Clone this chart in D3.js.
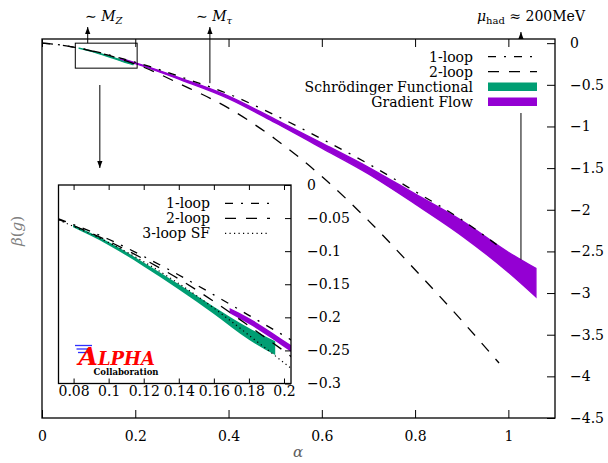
<!DOCTYPE html>
<html>
<head>
<meta charset="utf-8">
<script src="https://cdn.jsdelivr.net/npm/d3@7"></script>
<style>
  body { margin: 0; background: #fff; }
  text { font-family: "DejaVu Serif", serif; }
</style>
</head>
<body>
<div class="canvas"></div>
<script>
// values
const alphaTicks = [0, 0.2, 0.4, 0.6, 0.8, 1];
const betaTicks = [0, -0.5, -1, -1.5, -2, -2.5, -3, -3.5, -4, -4.5];
const insetAlphaTicks = [0.08, 0.1, 0.12, 0.14, 0.16, 0.18, 0.2];
const insetBetaTicks = [0, -0.05, -0.1, -0.15, -0.2, -0.25, -0.3];

// [alpha, beta]
const oneLoop = [[0, 0], [0.04, -0.021], [0.0714, -0.051], [0.10, -0.082], [0.12, -0.108], [0.14, -0.136],
  [0.16, -0.166], [0.18, -0.197], [0.204, -0.234], [0.3, -0.41], [0.4, -0.61], [0.5, -0.865],
  [0.6, -1.15], [0.7, -1.45], [0.8, -1.78], [0.9, -2.12], [0.98, -2.44]];
const twoLoop = [[0, 0], [0.04, -0.022], [0.0714, -0.052], [0.10, -0.085], [0.12, -0.112], [0.14, -0.142],
  [0.16, -0.176], [0.18, -0.213], [0.204, -0.259], [0.3, -0.50], [0.4, -0.78], [0.5, -1.15],
  [0.6, -1.60], [0.7, -2.13], [0.8, -2.72], [0.9, -3.33], [0.98, -3.84]];
const threeLoopSF = [[0.0714, -0.053], [0.10, -0.087], [0.12, -0.116], [0.14, -0.149],
  [0.16, -0.186], [0.18, -0.227], [0.204, -0.277]];

// [alpha, lower, upper]
const sfBand = [[0.0797, -0.064, -0.060], [0.10, -0.091, -0.086], [0.12, -0.123, -0.117],
  [0.14, -0.158, -0.150], [0.16, -0.195, -0.184], [0.18, -0.234, -0.216], [0.195, -0.257, -0.236]];
const gfBand = [[0.169, -0.194, -0.186], [0.18, -0.210, -0.201], [0.204, -0.252, -0.242],
  [0.3, -0.445, -0.425], [0.4, -0.665, -0.635], [0.5, -0.955, -0.915], [0.6, -1.26, -1.20],
  [0.7, -1.57, -1.49], [0.8, -1.93, -1.81], [0.9, -2.31, -2.13], [1.0, -2.75, -2.51],
  [1.059, -3.045, -2.705]];

const legendMain = ['1-loop', '2-loop', 'Schrödinger Functional', 'Gradient Flow'];
const legendInset = ['1-loop', '2-loop', '3-loop SF'];

// scale markers: alpha of the arrow, beta where it starts
const muZ = { alpha: 0.098, beta: 0 };
const muTau = { alpha: 0.36, beta: -0.48 };
const muHad = { alpha: 1.027, beta: -2.6 };

const green = '#009e73';
const purple = '#9400d3';

const margin = { top: 39, right: 53, bottom: 45, left: 42 };
const graphWidth = 608 - margin.left - margin.right;
const graphHeight = 463 - margin.top - margin.bottom;

const svg = d3.select('.canvas')
  .append('svg')
  .attr('width', 608)
  .attr('height', 463);

const defs = svg.append('defs');
defs.append('clipPath').attr('id', 'clipMain')
  .append('rect').attr('width', graphWidth).attr('height', graphHeight);
defs.append('marker')
  .attr('id', 'arrow')
  .attr('viewBox', '-7 -3 8 6')
  .attr('refX', 0).attr('refY', 0)
  .attr('markerWidth', 8).attr('markerHeight', 6)
  .attr('markerUnits', 'userSpaceOnUse')
  .attr('orient', 'auto')
  .append('path').attr('d', 'M0,0L-7,-2.6L-7,2.6Z').attr('fill', '#000');

const x = d3.scaleLinear().domain([0, 1.1]).range([0, graphWidth]);
const y = d3.scaleLinear().domain([-4.5, 0.05]).range([graphHeight, 0]);

const graph = svg.append('g')
  .attr('transform', `translate(${margin.left}, ${margin.top})`);

const styleAxis = g => {
  g.select('.domain').remove();
  g.attr('font-family', '"DejaVu Serif", serif').attr('font-size', 14);
  g.selectAll('line').attr('stroke-width', 1);
};

const arrow = (x1, y1, x2, y2) => svg.append('line')
  .attr('x1', x1).attr('y1', y1).attr('x2', x2).attr('y2', y2)
  .attr('stroke', '#000').attr('stroke-width', 1)
  .attr('marker-end', 'url(#arrow)');

const plot = graph.append('g').attr('clip-path', 'url(#clipMain)');

const band = (sx, sy) => d3.area()
  .x(d => sx(d[0])).y0(d => sy(d[1])).y1(d => sy(d[2]))
  .curve(d3.curveMonotoneX);
const curve = (sx, sy) => d3.line()
  .x(d => sx(d[0])).y(d => sy(d[1]))
  .curve(d3.curveMonotoneX);

plot.append('path').attr('d', band(x, y)(sfBand))
  .attr('fill', green).attr('stroke', green).attr('stroke-width', 1.2);
plot.append('path').attr('d', band(x, y)(gfBand))
  .attr('fill', purple).attr('stroke', purple).attr('stroke-width', 1.4);
plot.append('path').attr('d', curve(x, y)(oneLoop))
  .attr('fill', 'none').attr('stroke', '#000').attr('stroke-width', 1.3)
  .attr('stroke-dasharray', '8,8,2,8');
plot.append('path').attr('d', curve(x, y)(twoLoop))
  .attr('fill', 'none').attr('stroke', '#000').attr('stroke-width', 1.3)
  .attr('stroke-dasharray', '11,10');

// small box marking the zoomed region
graph.append('rect')
  .attr('x', x(0.0714)).attr('y', y(0))
  .attr('width', x(0.204) - x(0.0714)).attr('height', y(-0.3) - y(0))
  .attr('fill', 'none').attr('stroke', '#000').attr('stroke-width', 1);

// scale arrows
arrow(margin.left + x(muZ.alpha), margin.top + y(muZ.beta), margin.left + x(muZ.alpha), 27);
arrow(margin.left + x(muTau.alpha), margin.top + y(muTau.beta), margin.left + x(muTau.alpha), 27);
arrow(margin.left + x(muHad.alpha), margin.top + y(muHad.beta), margin.left + x(muHad.alpha), 32);
arrow(margin.left + x(0.124), 85, margin.left + x(0.124), 168);

// key (opaque, sits over the arrow)
const key = svg.append('g')
  .attr('transform', `translate(${margin.left}, ${margin.top})`);
key.append('rect')
  .attr('x', 243).attr('y', 0).attr('width', 261).attr('height', 74)
  .attr('fill', '#fff');
legendMain.forEach((name, i) => {
  const ky = 17.7 + i * 15;
  key.append('text').text(name)
    .attr('x', 431).attr('y', ky).attr('dy', '0.35em')
    .attr('text-anchor', 'end').attr('font-size', 14);
  if (i < 2) {
    key.append('line')
      .attr('x1', 446).attr('x2', 495).attr('y1', ky).attr('y2', ky)
      .attr('stroke', '#000').attr('stroke-width', 1.3)
      .attr('stroke-dasharray', i === 0 ? '8,8,2,8' : '11,10');
  } else {
    key.append('rect')
      .attr('x', 446).attr('y', ky - 4.2).attr('width', 49).attr('height', 8.5)
      .attr('fill', i === 2 ? green : purple);
  }
});

// axes and border go on top of the key
const frame = svg.append('g')
  .attr('transform', `translate(${margin.left}, ${margin.top})`);
frame.append('g')
  .attr('transform', `translate(0, ${graphHeight})`)
  .call(d3.axisBottom(x).tickValues(alphaTicks).tickSize(-8).tickSizeOuter(0)
    .tickPadding(13).tickFormat(d3.format('~g')))
  .call(styleAxis);
frame.append('g')
  .call(d3.axisTop(x).tickValues(alphaTicks).tickSize(-8).tickSizeOuter(0).tickFormat(''))
  .call(styleAxis);
frame.append('g')
  .attr('transform', `translate(${graphWidth}, 0)`)
  .call(d3.axisRight(y).tickValues(betaTicks).tickSize(-8).tickSizeOuter(0)
    .tickPadding(15).tickFormat(d3.format('~g')))
  .call(styleAxis);
frame.append('rect')
  .attr('width', graphWidth).attr('height', graphHeight)
  .attr('fill', 'none').attr('stroke', '#000').attr('stroke-width', 1.3);

// inset
const inset = { left: 58.5, top: 185, width: 232.5, height: 198.5 };
const xi = d3.scaleLinear().domain([0.0714, 0.204]).range([0, inset.width]);
const yi = d3.scaleLinear().domain([-0.3, 0]).range([inset.height, 0]);

defs.append('clipPath').attr('id', 'clipInset')
  .append('rect').attr('width', inset.width).attr('height', inset.height);

const graph2 = svg.append('g')
  .attr('transform', `translate(${inset.left}, ${inset.top})`);
graph2.append('rect')
  .attr('width', inset.width).attr('height', inset.height).attr('fill', '#fff');

const plot2 = graph2.append('g').attr('clip-path', 'url(#clipInset)');
plot2.append('path').attr('d', band(xi, yi)(sfBand)).attr('fill', green);
plot2.append('path').attr('d', band(xi, yi)(gfBand)).attr('fill', purple);
plot2.append('path').attr('d', curve(xi, yi)(oneLoop))
  .attr('fill', 'none').attr('stroke', '#000').attr('stroke-width', 1.3)
  .attr('stroke-dasharray', '8,8,2,8');
plot2.append('path').attr('d', curve(xi, yi)(twoLoop))
  .attr('fill', 'none').attr('stroke', '#000').attr('stroke-width', 1.3)
  .attr('stroke-dasharray', '11,10');
plot2.append('path').attr('d', curve(xi, yi)(threeLoopSF))
  .attr('fill', 'none').attr('stroke', '#000').attr('stroke-width', 1.2)
  .attr('stroke-dasharray', '1.2,3.3');

graph2.append('g')
  .attr('transform', `translate(0, ${inset.height})`)
  .call(d3.axisBottom(xi).tickValues(insetAlphaTicks).tickSize(-5).tickSizeOuter(0)
    .tickPadding(3).tickFormat(d3.format('~g')))
  .call(styleAxis);
graph2.append('g')
  .call(d3.axisTop(xi).tickValues(insetAlphaTicks).tickSize(-5).tickSizeOuter(0).tickFormat(''))
  .call(styleAxis);
graph2.append('g')
  .attr('transform', `translate(${inset.width}, 0)`)
  .call(d3.axisRight(yi).tickValues(insetBetaTicks).tickSize(-6).tickSizeOuter(0)
    .tickPadding(16).tickFormat(d3.format('~g')))
  .call(styleAxis);

graph2.append('rect')
  .attr('width', inset.width).attr('height', inset.height)
  .attr('fill', 'none').attr('stroke', '#000').attr('stroke-width', 1.3);

legendInset.forEach((name, i) => {
  const ky = 18.3 + i * 15;
  graph2.append('text').text(name)
    .attr('x', 151.5).attr('y', ky).attr('dy', '0.35em')
    .attr('text-anchor', 'end').attr('font-size', 14);
  graph2.append('line')
    .attr('x1', 166.5).attr('x2', 211.5).attr('y1', ky).attr('y2', ky)
    .attr('stroke', '#000').attr('stroke-width', i === 2 ? 1.2 : 1.3)
    .attr('stroke-dasharray', ['8,8,2,8', '11,10', '1.2,3.3'][i]);
});

// ALPHA logo
const logo = graph2.append('g');
[[16.5, 33.5, 160.5], [18, 32, 164], [19.5, 30.5, 167.5]].forEach(d => {
  logo.append('line')
    .attr('x1', d[0]).attr('x2', d[1]).attr('y1', d[2]).attr('y2', d[2])
    .attr('stroke', '#3030ff').attr('stroke-width', 1.3);
});
const alphaText = logo.append('text')
  .attr('x', 20).attr('y', 179.5)
  .attr('font-family', '"Liberation Serif", serif')
  .attr('font-weight', 'bold').attr('font-style', 'italic')
  .attr('fill', '#ff0000');
alphaText.append('tspan').text('A').attr('font-size', 25);
alphaText.append('tspan').text('LPHA').attr('font-size', 18);
logo.append('text').text('Collaboration')
  .attr('x', 35).attr('y', 190)
  .attr('font-family', '"Liberation Serif", serif')
  .attr('font-weight', 'bold').attr('font-size', 8.5);

// annotations
const tZ = svg.append('text').attr('x', 85).attr('y', 21).attr('font-size', 14);
tZ.append('tspan').text('∼ ');
tZ.append('tspan').text('M').attr('font-style', 'italic');
tZ.append('tspan').text('Z').attr('font-style', 'italic').attr('font-size', 10).attr('dy', 3);

const tT = svg.append('text').attr('x', 196).attr('y', 21).attr('font-size', 14);
tT.append('tspan').text('∼ ');
tT.append('tspan').text('M').attr('font-style', 'italic');
tT.append('tspan').text('τ').attr('font-style', 'italic').attr('font-size', 10).attr('dy', 3);

const tH = svg.append('text').attr('x', 477).attr('y', 21).attr('font-size', 14);
tH.append('tspan').text('μ').attr('font-style', 'italic');
tH.append('tspan').text('had').attr('font-size', 10).attr('dy', 3);
tH.append('tspan').text(' ≈ 200MeV').attr('dy', -3);

svg.append('text')
  .attr('transform', 'translate(22, 231) rotate(-90)')
  .attr('text-anchor', 'middle').attr('font-size', 15).attr('fill', '#808080')
  .call(t => {
    t.append('tspan').text('β').attr('font-style', 'italic');
    t.append('tspan').text('(');
    t.append('tspan').text('g').attr('font-style', 'italic');
    t.append('tspan').text(')');
  });

svg.append('text').text('α')
  .attr('x', 298).attr('y', 457)
  .attr('text-anchor', 'middle').attr('font-size', 15)
  .attr('font-style', 'italic').attr('fill', '#606060');
</script>
</body>
</html>
